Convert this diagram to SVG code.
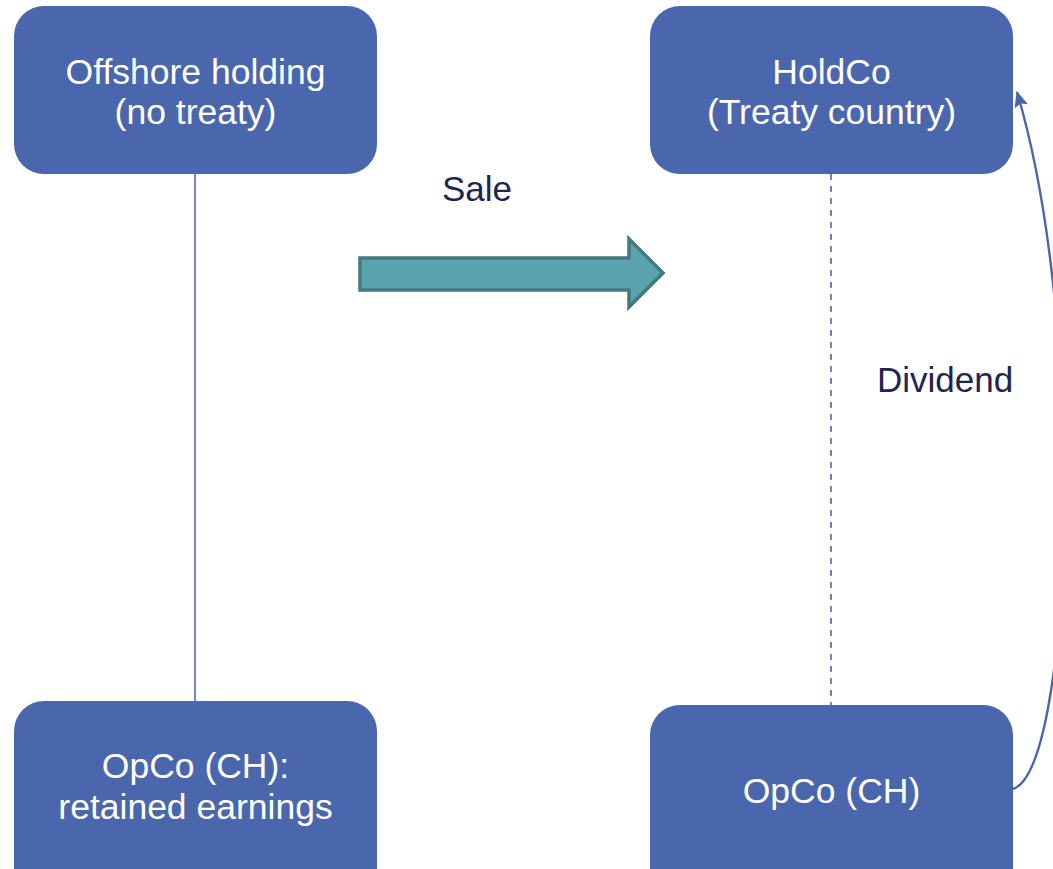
<svg xmlns="http://www.w3.org/2000/svg" width="1053" height="869" viewBox="0 0 1053 869">
<style>
.box{fill:#4A67AD;}
.t{font-family:"Liberation Sans",Arial,sans-serif;font-size:35.5px;fill:#FFFFFF;text-anchor:middle;}
.lbl{font-family:"Liberation Sans",Arial,sans-serif;font-size:35px;fill:#1F2452;}
.conn{fill:none;stroke:#4A67AD;stroke-width:1.6;}
</style>
<defs>
<marker id="ah" viewBox="0 0 16 14" refX="15" refY="7" markerWidth="16" markerHeight="14" markerUnits="userSpaceOnUse" orient="auto">
<path d="M0,0 L16,7 L0,14 L3,7 z" fill="#4A67AD"/>
</marker>
</defs>
<rect width="1053" height="869" fill="#FFFFFF"/>
<g id="connectors">
<line class="conn" x1="195" y1="174" x2="195" y2="701"/>
<line class="conn" x1="831" y1="174" x2="831" y2="705" stroke-dasharray="6,6"/>
<path class="conn" style="stroke-width:2.4" d="M1013,789 C1072,770 1088,330 1017,92" marker-end="url(#ah)"/>
<path id="sale-arrow" d="M360,258 L629,258 L629,239 L663,273 L629,307 L629,290 L360,290 Z" fill="#5BA3AE" stroke="#41797F" stroke-width="3.5" stroke-linejoin="miter"/>
</g>
<g id="offshore">
<rect class="box" x="14" y="6" width="363" height="168" rx="30"/>
<text class="t" x="195.5" y="84">Offshore holding</text>
<text class="t" x="195.5" y="124">(no treaty)</text>
</g>
<g id="holdco">
<rect class="box" x="650" y="6" width="363" height="168" rx="30"/>
<text class="t" x="831.5" y="84">HoldCo</text>
<text class="t" x="831.5" y="124">(Treaty country)</text>
</g>
<g id="opco-left">
<rect class="box" x="14" y="701" width="363" height="200" rx="30"/>
<text class="t" x="195.5" y="778">OpCo (CH):</text>
<text class="t" x="195.5" y="819">retained earnings</text>
</g>
<g id="opco-right">
<rect class="box" x="650" y="705" width="363" height="200" rx="30"/>
<text class="t" x="831.5" y="803">OpCo (CH)</text>
</g>
<g id="labels">
<text class="lbl" x="477" y="201" text-anchor="middle">Sale</text>
<text class="lbl" x="877" y="392">Dividend</text>
</g>
</svg>
